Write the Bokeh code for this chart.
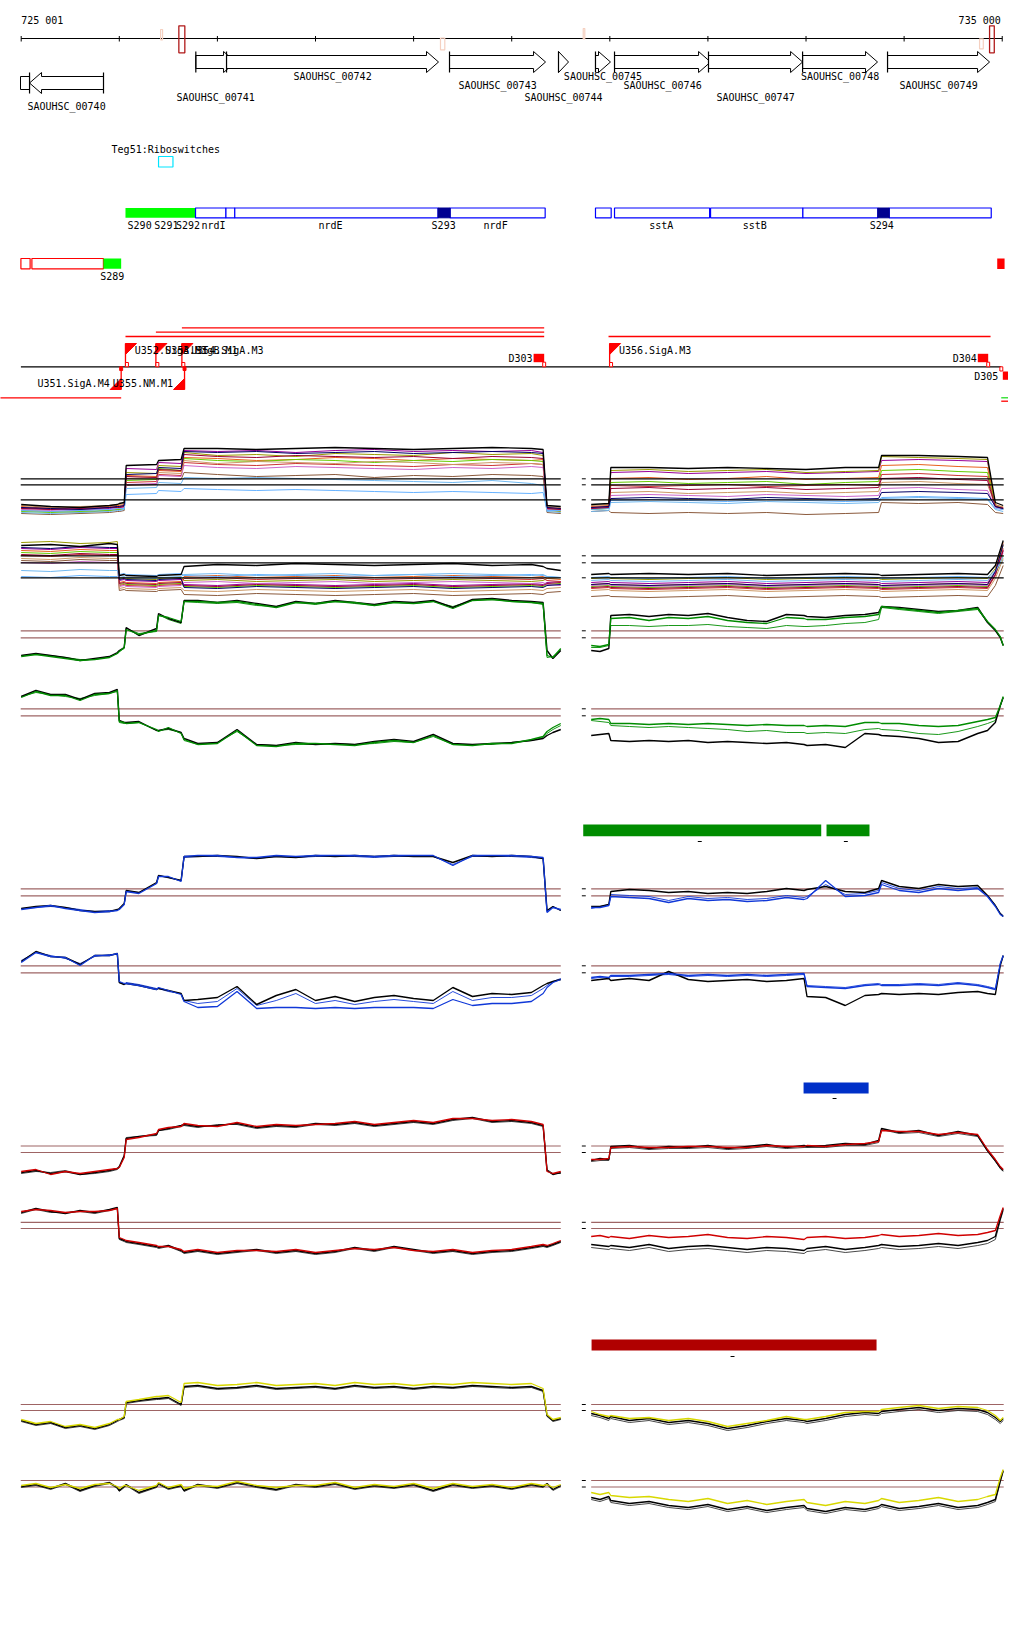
from bokeh.plotting import figure
from bokeh.models import Range1d
from bokeh.core.properties import value
from bokeh.embed import file_html
from bokeh.resources import INLINE

FONT = value("DejaVu Sans Mono")

# ---------------- data ----------------
VIEW_START, VIEW_END = 724789.0, 735064.0
RULER_TICKS = [725000, 726000, 727000, 728000, 729000, 730000, 731000, 732000, 733000, 734000, 735000]
RULER_LABELS = ["725 001", "735 000"]
RULER_LABEL_POS = [725000, 734985]
PINK_MARK_START = [726421, 729274, 730729, 734769]
PINK_MARK_END = [726441, 729318, 730745, 734807]
DARK_MARK_START = [726607, 734871]
DARK_MARK_END = [726668, 734919]

GENE_NAMES = ["SAOUHSC_00740", "SAOUHSC_00741", "SAOUHSC_00742", "SAOUHSC_00743", "SAOUHSC_00744",
              "SAOUHSC_00745", "SAOUHSC_00746", "SAOUHSC_00747", "SAOUHSC_00748", "SAOUHSC_00749"]
GENE_START = [725085, 726780, 727093, 729366, 730477, 730854, 731048, 732006, 732965, 733831]
GENE_END = [725839, 727185, 729254, 730345, 730579, 731007, 732027, 732965, 733729, 734871]
GENE_STRAND = [-1, 1, 1, 1, 1, 1, 1, 1, 1, 1]
CLIPPED_GENE = [724993, 725085]

RIBO_NAME = "Teg51:Riboswitches"
RIBO_START, RIBO_END = 726400, 726547

BOX_START = [726777, 727087, 727177, 729372, 730854, 731048, 732027, 732968, 733848]
BOX_END = [727087, 727177, 729249, 730341, 731014, 732017, 732968, 733732, 734888]
NAVY_START = [729249, 733732]
NAVY_END = [729372, 733848]
GREEN_SEG_START = [726063]
GREEN_SEG_END = [726777]
SEG_LABELS = ["S290", "S291", "S292", "nrdI", "nrdE", "S293", "nrdF", "sstA", "sstB", "S294"]
SEG_LABEL_POS = [726207, 726480, 726700, 726960, 728153, 729306, 729836, 731524, 732478, 733773]

RED_OUT_START = [724997, 725109]
RED_OUT_END = [725091, 725838]
S289_START, S289_END = 725838, 726019
RED_FILL_START, RED_FILL_END = 734949, 735024

FWD_FLAG_POS = [726063, 726373, 726638, 730998]
FWD_FLAG_NAMES = ["U352.SigA.M3", "U353.SigB.M1", "U354.SigA.M3", "U356.SigA.M3"]
REV_FLAG_POS = [726019, 726665]
REV_FLAG_NAMES = ["U351.SigA.M4", "U355.NM.M1"]
TERM_NAMES = ["D303", "D304", "D305"]
TERM_START = [730223, 734751, 735006]
TERM_END = [730331, 734857, 735092]
TERM_STRAND = [1, 1, -1]
TX_START = [726638, 726373, 726063, 730987, 724700]
TX_END = [730331, 730331, 730331, 734881, 726019]
TX_ROW = [327.3, 331.7, 336.0, 336.0, 397.3]

GREEN_REGION_START = [730729, 733209]
GREEN_REGION_END = [733155, 733647]
GREEN_REGION_MARK = [731917, 733406]
BLUE_REGION_START, BLUE_REGION_END, BLUE_REGION_MARK = [732975], [733638], [733291]
RED_REGION_START, RED_REGION_END, RED_REGION_MARK = [730814], [733719], [732251]

# probe positions (left block, right block)
L_POS = [725000, 725150, 725300, 725450, 725600, 725750, 725900, 725980, 726000, 726050, 726070, 726200,
         726380, 726400, 726500, 726630, 726660, 726800, 727000, 727200, 727400, 727600, 727800, 728000,
         728200, 728400, 728600, 728800, 729000, 729200, 729400, 729600, 729800, 730000, 730200, 730320,
         730360, 730420, 730500]
R_POS = [730810, 730900, 730990, 731010, 731200, 731400, 731600, 731800, 732000, 732200, 732400, 732600,
         732800, 732980, 733010, 733200, 733400, 733600, 733740, 733770, 733950, 734150, 734350, 734550,
         734750, 734850, 734930, 734980, 735010]
P1_L_POS = [725000, 725300, 725600, 725900, 725980, 726000, 726050, 726070, 726380, 726400, 726630, 726660,
            727000, 727400, 727800, 728200, 728600, 729000, 729400, 729800, 730200, 730320, 730360, 730500]
P1_R_POS = [730810, 730990, 731010, 731400, 731800, 732200, 732600, 733000, 733400, 733740, 733770, 734150,
            734550, 734850, 734930, 735010]

# panel 1, upper strand (many conditions)
P1U_BLACK = [1.6,1.4,1.3,1.5,1.6,1.7,1.8,5.5,5.6,6.0,6.1,7.2,7.2,7.1,7.2,7.3,7.2,7.1,7.2,7.3,7.2,7.1,1.5,1.4,
             1.6,1.7,5.3,5.3,5.2,5.3,5.2,5.1,5.3,5.3,6.5,6.5,6.4,6.3,1.8,1.5]
P1U_PURPLE = [1.3,1.1,1.0,1.2,1.3,1.3,1.4,5.2,5.1,5.8,5.7,7.0,6.9,7.0,6.8,7.0,7.1,6.9,7.0,6.9,7.0,6.8,1.2,1.1,
              1.3,1.4,4.8,4.9,4.7,4.8,4.9,4.7,4.8,4.9,6.0,6.1,6.0,5.9,1.5,1.2]
P1U_OLIVE = [1.0,0.9,0.8,1.0,1.1,1.1,1.2,4.8,4.7,5.5,5.4,6.8,6.5,6.6,6.4,6.7,6.6,6.5,6.8,6.6,6.7,6.5,1.0,0.9,
             1.2,1.3,5.0,5.1,4.9,5.0,5.1,4.8,4.9,5.0,6.4,6.3,6.2,6.1,1.4,1.1]
P1U_ORANGE = [1.4,1.2,1.3,1.4,1.5,1.5,1.6,4.5,4.4,5.0,4.9,6.3,6.2,6.0,6.1,6.3,6.2,6.0,6.2,6.1,6.0,6.1,1.3,1.2,
              1.4,1.5,4.2,4.3,4.1,4.2,4.4,4.1,4.2,4.3,5.5,5.6,5.4,5.3,1.6,1.3]
P1U_GREEN = [0.9,0.8,0.9,1.0,1.1,1.1,1.2,4.0,4.1,5.2,5.0,6.2,6.0,5.9,6.1,6.0,5.8,6.0,5.9,6.1,6.0,5.9,1.1,1.0,
             1.1,1.2,3.8,3.9,3.7,3.8,3.9,3.6,3.8,3.9,5.0,5.1,4.9,4.8,1.5,1.2]
P1U_RED = [1.2,1.3,1.1,1.3,1.4,1.4,1.5,3.8,3.9,4.6,4.5,5.8,5.6,5.5,5.7,5.6,5.5,5.4,5.6,5.5,5.7,5.6,1.3,1.2,
           1.3,1.4,3.5,3.4,3.5,3.6,3.4,3.5,3.6,3.5,4.6,4.7,4.5,4.4,1.4,1.3]
P1U_BROWN = [0.7,0.6,0.7,0.8,0.9,0.9,1.0,3.5,3.6,4.2,4.1,4.8,4.6,4.4,4.5,4.6,4.3,4.5,4.4,4.6,4.5,4.4,0.8,0.7,
             0.9,1.0,0.8,0.7,0.8,0.7,0.8,0.6,0.7,0.8,1.8,1.7,1.8,1.6,0.8,0.7]
P1U_PINK = [1.1,1.0,1.2,1.1,1.2,1.2,1.3,3.6,3.7,4.5,4.4,5.5,5.3,5.2,5.4,5.3,5.2,5.1,5.3,5.2,5.4,5.3,1.1,1.0,
            1.2,1.3,2.5,2.6,2.5,2.4,2.6,2.5,2.4,2.5,3.2,3.3,3.1,3.0,1.3,1.1]
P1U_LIGHTBLUE = [1.0,0.9,1.0,1.1,1.2,1.2,1.2,2.6,2.7,3.0,2.9,3.2,3.1,3.0,3.1,3.0,2.9,2.8,2.9,2.8,2.7,2.8,1.0,1.0,
                 1.1,1.2,2.0,2.1,2.0,1.9,2.1,2.0,1.9,2.0,2.3,2.4,2.3,2.2,1.2,1.1]
P1U_TAN = [1.5,1.3,1.4,1.5,1.6,1.6,1.7,4.2,4.3,4.8,4.7,6.0,5.7,5.9,5.8,5.7,5.9,5.8,5.6,5.8,5.7,5.6,1.4,1.3,
           1.5,1.6,2.8,2.9,2.7,2.8,2.9,2.7,2.8,2.9,3.8,3.9,3.7,3.6,1.5,1.4]
P1U_DARKRED = [1.2,1.1,1.2,1.3,1.3,1.3,1.4,4.4,4.3,5.1,5.0,6.6,6.4,6.3,6.5,6.4,6.3,6.4,6.2,6.4,6.3,6.2,1.2,1.1,
               1.2,1.3,3.2,3.3,3.1,3.2,3.3,3.1,3.2,3.3,4.2,4.3,4.1,4.0,1.4,1.2]
P1U_SKY = [0.8,0.7,0.8,0.9,1.0,1.0,1.1,3.2,3.3,3.8,3.7,4.3,4.2,4.3,4.2,4.1,4.0,3.9,3.8,4.0,3.7,3.5,0.9,0.8,
           0.9,1.0,1.8,1.9,1.8,1.7,1.9,1.8,1.7,1.8,2.2,2.3,2.2,2.1,1.1,0.9]
P1U_NAVY = [1.3,1.2,1.1,1.3,1.4,1.4,1.5,4.6,4.7,5.3,5.2,6.9,6.8,6.9,6.7,6.8,6.9,6.7,6.8,6.9,6.8,6.7,1.3,1.2,
            1.3,1.4,2.2,2.3,2.2,2.1,2.3,2.2,2.1,2.2,2.8,2.9,2.8,2.7,1.4,1.2]

# panel 1, lower strand
P1L_BLACK = [5.5,5.6,5.4,5.7,5.6,2.5,2.6,2.5,2.4,2.5,2.6,3.4,3.6,3.5,3.7,3.6,3.5,3.6,3.7,3.5,3.6,3.4,3.2,3.0,
             2.6,2.7,2.6,2.7,2.6,2.7,2.5,2.6,2.7,2.6,2.5,2.6,2.7,2.6,3.5,6.0]
P1L_PURPLE = [5.2,5.1,5.3,5.2,5.2,2.0,2.1,2.0,1.9,2.0,2.1,1.6,1.5,1.7,1.6,1.5,1.6,1.7,1.5,1.6,1.7,1.6,1.8,1.9,
              1.8,1.9,1.8,1.7,1.8,1.9,1.7,1.8,1.9,1.8,1.7,1.8,1.9,1.8,2.8,5.0]
P1L_OLIVE = [5.8,5.9,5.7,5.8,5.9,2.2,2.3,2.2,2.1,2.2,2.3,2.0,2.1,1.9,2.0,2.1,1.9,2.0,2.1,2.0,1.9,2.0,2.2,2.3,
             2.2,2.3,2.2,2.1,2.2,2.3,2.1,2.2,2.3,2.2,2.1,2.2,2.3,2.2,3.2,5.5]
P1L_ORANGE = [5.0,4.9,5.1,5.0,5.0,1.8,1.9,1.8,1.7,1.8,1.9,2.4,2.5,2.3,2.4,2.5,2.3,2.4,2.5,2.4,2.3,2.4,2.2,2.1,
              1.6,1.7,1.6,1.5,1.6,1.7,1.5,1.6,1.7,1.6,1.5,1.6,1.7,1.6,3.0,5.8]
P1L_GREEN = [4.8,4.7,4.9,4.8,4.8,1.6,1.7,1.6,1.5,1.6,1.7,1.4,1.3,1.5,1.4,1.3,1.4,1.5,1.3,1.4,1.5,1.4,1.6,1.7,
             1.4,1.5,1.4,1.3,1.4,1.5,1.3,1.4,1.5,1.4,1.3,1.4,1.5,1.4,2.6,4.5]
P1L_RED = [4.5,4.4,4.6,4.5,4.5,1.5,1.6,1.5,1.4,1.5,1.6,2.2,2.3,2.1,2.2,2.3,2.1,2.2,2.3,2.2,2.1,2.2,2.0,1.9,
           1.2,1.3,1.2,1.1,1.2,1.3,1.1,1.2,1.3,1.2,1.1,1.2,1.3,1.2,2.5,5.2]
P1L_BROWN = [4.0,3.9,4.1,4.0,4.0,1.0,1.1,1.0,0.9,1.0,1.1,0.6,0.5,0.7,0.6,0.5,0.6,0.7,0.5,0.6,0.7,0.6,0.8,0.9,
             0.4,0.5,0.4,0.3,0.4,0.5,0.3,0.4,0.5,0.4,0.3,0.4,0.5,0.4,1.5,3.5]
P1L_PINK = [3.8,3.7,3.9,3.8,3.8,1.4,1.5,1.4,1.3,1.4,1.5,1.8,1.9,1.7,1.8,1.9,1.7,1.8,1.9,1.8,1.7,1.8,1.6,1.5,
            1.5,1.6,1.5,1.4,1.5,1.6,1.4,1.5,1.6,1.5,1.4,1.5,1.6,1.5,2.7,4.8]
P1L_LIGHTBLUE = [2.4,2.3,2.5,2.4,2.4,2.6,2.7,2.6,2.5,2.6,2.7,2.5,2.4,2.6,2.5,2.4,2.5,2.6,2.4,2.5,2.6,2.5,2.4,2.3,
                 2.3,2.4,2.3,2.2,2.3,2.4,2.2,2.3,2.4,2.3,2.2,2.3,2.4,2.3,3.0,4.0]
P1L_TAN = [4.2,4.1,4.3,4.2,4.2,1.2,1.3,1.2,1.1,1.2,1.3,1.0,0.9,1.1,1.0,0.9,1.0,1.1,0.9,1.0,1.1,1.0,1.2,1.3,
           1.0,1.1,1.0,0.9,1.0,1.1,0.9,1.0,1.1,1.0,0.9,1.0,1.1,1.0,2.2,4.2]
P1L_DARKRED = [4.6,4.5,4.7,4.6,4.6,1.7,1.8,1.7,1.6,1.7,1.8,1.5,1.4,1.6,1.5,1.4,1.5,1.6,1.4,1.5,1.6,1.5,1.7,1.8,
               1.3,1.4,1.3,1.2,1.3,1.4,1.2,1.3,1.4,1.3,1.2,1.3,1.4,1.3,2.6,5.0]
P1L_SKY = [3.0,2.9,3.1,3.0,3.0,2.3,2.4,2.3,2.2,2.3,2.4,2.6,2.7,2.5,2.6,2.7,2.5,2.6,2.7,2.6,2.5,2.6,2.4,2.3,
           2.0,2.1,2.0,1.9,2.0,2.1,1.9,2.0,2.1,2.0,1.9,2.0,2.1,2.0,2.9,4.4]
P1L_NAVY = [5.3,5.2,5.4,5.3,5.3,2.1,2.2,2.1,2.0,2.1,2.2,1.3,1.2,1.4,1.3,1.2,1.3,1.4,1.2,1.3,1.4,1.3,1.5,1.6,
            1.6,1.7,1.6,1.5,1.6,1.7,1.5,1.6,1.7,1.6,1.5,1.6,1.7,1.6,2.9,5.6]

# panel 2 (green)
P2U_BLACK = [1.0,1.2,1.0,0.8,0.5,0.7,0.9,1.3,1.5,1.8,3.8,3.0,3.7,5.2,4.7,4.3,6.5,6.5,6.3,6.5,6.2,5.9,6.4,6.2,6.5,6.3,6.1,6.4,6.3,6.5,5.8,6.6,6.7,6.5,6.4,6.3,1.5,0.7,1.5,
             1.5,1.4,1.7,5.0,5.1,4.9,5.1,5.0,5.2,4.8,4.5,4.4,5.1,5.0,4.9,4.8,5.0,5.1,5.3,5.9,5.8,5.6,5.4,5.5,5.8,4.3,3.5,2.8,2.0]
P2U_COLOR = [0.9,1.1,0.9,0.7,0.5,0.6,0.8,1.2,1.4,1.8,3.6,3.1,3.5,5.0,4.8,4.4,6.4,6.4,6.3,6.4,6.1,5.8,6.3,6.2,6.4,6.3,6.0,6.3,6.2,6.4,5.7,6.5,6.6,6.4,6.3,6.2,1.0,0.8,1.7,
             2.0,1.9,2.1,4.7,4.8,4.5,4.8,4.7,4.9,4.5,4.3,4.2,4.8,4.7,4.6,4.6,4.8,4.9,5.1,5.9,5.7,5.5,5.3,5.5,5.7,4.4,3.6,2.9,2.0]
P2U_COLOR2 = [1.0,1.1,1.0,0.8,0.6,0.6,0.9,1.2,1.4,1.7,3.7,3.2,3.4,5.1,4.6,4.2,6.4,6.3,6.2,6.3,6.0,5.9,6.3,6.1,6.4,6.2,6.0,6.3,6.2,6.4,5.9,6.5,6.6,6.4,6.3,6.1,0.8,0.9,1.6,
              1.8,1.8,2.0,4.0,4.0,3.9,4.0,4.0,4.1,3.9,3.8,3.7,4.0,3.9,3.9,4.0,4.2,4.3,4.6,5.8,5.6,5.4,5.2,5.4,5.6,4.3,3.5,2.8,2.0]
P2L_BLACK = [5.9,6.5,6.1,6.1,5.6,6.2,6.3,6.6,3.5,3.3,3.3,3.4,2.5,2.5,2.7,2.3,1.7,1.2,1.3,2.6,1.1,1.0,1.3,1.1,1.2,1.1,1.4,1.6,1.4,2.1,1.2,1.1,1.2,1.3,1.5,1.7,2.0,2.3,2.6,
             2.0,2.1,2.2,1.5,1.4,1.5,1.4,1.5,1.3,1.4,1.3,1.2,1.3,1.1,1.0,1.1,0.8,2.2,2.1,2.0,1.9,1.7,1.3,1.4,2.2,2.5,3.3,5.0,5.8]
P2L_COLOR = [5.8,6.4,6.0,6.0,5.5,6.1,6.2,6.5,3.4,3.3,3.2,3.3,2.6,2.4,2.8,2.2,1.6,1.1,1.2,2.5,1.0,0.9,1.2,1.2,1.1,1.0,1.3,1.5,1.3,2.0,1.1,1.0,1.2,1.2,1.6,1.9,2.4,2.8,3.2,
             3.6,3.7,3.6,3.2,3.2,3.1,3.2,3.1,3.2,3.1,3.0,3.1,3.0,3.0,2.9,3.0,2.9,3.3,3.3,3.2,3.2,3.0,2.9,3.0,3.4,3.6,3.8,5.0,5.9]
P2L_COLOR2 = [5.9,6.3,6.1,5.9,5.7,6.0,6.2,6.4,3.3,3.2,3.2,3.3,2.5,2.5,2.6,2.3,1.5,1.1,1.3,2.4,1.1,1.0,1.1,1.1,1.2,1.1,1.2,1.4,1.3,1.9,1.1,1.1,1.1,1.3,1.5,1.8,2.2,2.6,3.0,
              3.5,3.4,3.3,3.0,2.9,2.8,2.9,2.8,2.7,2.6,2.4,2.5,2.3,2.3,2.2,2.3,2.2,2.6,2.7,2.6,2.5,2.2,2.1,2.4,2.9,3.2,3.5,4.9,5.8]

# panel 3 (blue)
P3U_BLACK = [1.2,1.4,1.5,1.3,1.0,0.9,0.9,1.1,1.2,1.7,3.0,2.8,3.8,4.5,4.3,4.0,6.4,6.4,6.5,6.4,6.2,6.4,6.3,6.5,6.4,6.5,6.4,6.5,6.4,6.4,5.8,6.5,6.4,6.5,6.4,6.2,1.0,1.4,1.0,
             1.4,1.4,1.6,2.9,3.1,3.0,2.8,2.9,2.7,2.8,2.7,2.9,3.2,3.0,3.1,3.4,2.9,2.8,3.2,4.0,3.4,3.2,3.6,3.4,3.5,2.5,1.5,0.7,0.4]
P3U_COLOR = [1.1,1.3,1.5,1.2,1.0,0.8,0.9,1.0,1.1,1.6,2.9,2.7,3.7,4.4,4.4,3.9,6.4,6.5,6.5,6.3,6.3,6.5,6.4,6.5,6.5,6.5,6.4,6.5,6.5,6.5,5.5,6.5,6.5,6.5,6.4,6.3,0.8,1.3,1.1,
             1.3,1.3,1.5,2.4,2.3,2.2,1.8,2.2,2.0,2.1,1.9,2.0,2.3,2.1,2.2,4.0,2.4,2.5,2.8,3.6,3.0,2.8,3.2,3.0,3.2,2.4,1.4,0.6,0.4]
P3U_COLOR2 = [1.2,1.3,1.4,1.3,1.1,0.9,1.0,1.0,1.2,1.6,2.9,2.8,3.7,4.5,4.3,4.0,6.3,6.4,6.4,6.3,6.2,6.4,6.3,6.4,6.4,6.4,6.3,6.4,6.4,6.4,5.6,6.4,6.4,6.4,6.3,6.2,0.9,1.4,1.0,
              1.2,1.4,1.6,2.6,2.5,2.4,2.0,2.4,2.2,2.3,2.1,2.2,2.5,2.3,2.4,3.6,2.6,2.7,3.0,3.8,3.2,3.0,3.4,3.2,3.3,2.5,1.5,0.7,0.5]
P3L_BLACK = [5.4,6.4,5.9,5.8,5.1,6.0,6.0,6.2,3.3,3.1,3.2,3.0,2.6,2.7,2.5,2.2,1.5,1.6,1.8,2.9,1.1,2.0,2.6,1.5,1.9,1.4,1.8,2.0,1.7,1.5,2.8,1.9,2.2,2.1,2.3,3.0,3.2,3.4,3.6,
             3.5,3.6,3.7,3.5,3.7,3.5,4.4,3.6,3.4,3.5,3.6,3.4,3.5,3.7,1.9,1.8,1.0,2.0,2.1,2.2,2.1,2.2,2.1,2.3,2.4,2.2,2.1,5.0,6.0]
P3L_COLOR = [5.3,6.3,5.9,5.8,5.0,6.0,6.0,6.2,3.4,3.2,3.2,3.0,2.6,2.8,2.5,2.1,1.4,0.8,0.9,2.4,0.7,0.8,0.8,0.7,0.8,0.7,0.8,0.8,0.8,0.7,1.6,1.0,1.2,1.2,1.4,2.2,2.8,3.3,3.6,
             3.8,3.9,3.8,4.0,4.0,4.1,4.2,4.0,4.1,4.0,4.1,4.0,4.1,4.2,2.9,2.8,2.7,3.0,3.1,3.0,3.0,3.1,3.0,3.2,3.0,2.8,2.6,5.2,6.0]
P3L_COLOR2 = [5.5,6.3,6.0,5.7,5.2,5.9,6.1,6.1,3.3,3.1,3.3,3.1,2.7,2.7,2.4,2.2,1.5,1.2,1.4,2.7,1.0,1.5,2.2,1.2,1.5,1.1,1.4,1.6,1.4,1.2,2.4,1.5,1.8,1.8,2.0,2.7,3.0,3.4,3.7,
              3.7,3.8,3.7,3.9,3.9,4.0,4.1,3.9,4.0,3.9,4.0,3.9,4.0,4.1,3.0,2.9,2.8,3.1,3.2,3.1,3.1,3.2,3.1,3.3,3.1,2.9,2.7,5.1,5.9]

# panel 4 (red)
P4U_BLACK = [0.8,1.0,0.7,0.9,0.6,0.8,1.0,1.2,1.4,2.5,4.2,4.4,4.6,5.0,5.2,5.5,5.6,5.4,5.5,5.7,5.3,5.5,5.4,5.7,5.6,5.8,5.5,5.7,5.9,5.7,6.1,6.3,5.9,6.0,5.8,5.5,1.0,0.6,0.8,
             2.0,2.2,2.1,3.4,3.5,3.2,3.4,3.3,3.5,3.2,3.4,3.6,3.3,3.5,3.4,3.5,3.7,3.6,4.0,5.2,4.8,5.0,4.5,4.9,4.5,3.0,2.0,1.3,1.0]
P4U_COLOR = [0.9,1.1,0.6,0.9,0.7,0.9,1.1,1.2,1.3,2.3,4.1,4.3,4.7,5.1,5.3,5.4,5.7,5.5,5.4,5.8,5.4,5.6,5.5,5.6,5.7,5.9,5.6,5.8,6.0,5.8,6.2,6.2,6.0,6.1,5.9,5.6,0.9,0.7,0.9,
             2.1,2.1,2.2,3.3,3.4,3.3,3.3,3.4,3.4,3.3,3.3,3.5,3.4,3.4,3.5,3.4,3.6,3.7,3.9,5.0,4.9,4.9,4.6,4.8,4.6,3.1,2.1,1.4,1.1]
P4U_COLOR2 = [0.7,0.9,0.8,1.0,0.6,0.7,0.9,1.1,1.3,2.4,4.3,4.4,4.5,5.0,5.1,5.4,5.5,5.3,5.6,5.6,5.2,5.4,5.3,5.6,5.5,5.7,5.4,5.6,5.8,5.6,6.0,6.2,5.8,5.9,5.7,5.4,1.1,0.7,0.7,
              1.9,2.0,2.0,3.2,3.3,3.1,3.2,3.2,3.3,3.1,3.2,3.4,3.2,3.3,3.3,3.3,3.5,3.5,3.8,5.1,4.7,4.8,4.4,4.7,4.4,2.9,1.9,1.2,0.9]
P4L_BLACK = [4.8,5.2,4.9,4.7,5.0,4.8,5.1,5.3,2.2,2.0,1.9,1.7,1.4,1.3,1.5,1.0,0.8,1.0,0.7,0.9,1.1,0.8,1.0,0.7,0.9,1.3,1.0,1.4,1.1,0.8,1.0,0.7,0.9,1.0,1.3,1.5,1.4,1.6,1.9,
             1.6,1.5,1.4,1.5,1.3,1.6,1.2,1.4,1.5,1.3,1.1,1.3,1.2,1.0,1.2,1.4,1.1,1.3,1.5,1.6,1.4,1.5,1.7,1.5,1.8,2.0,2.4,4.2,5.2]
P4L_COLOR = [4.9,5.1,5.0,4.8,4.9,4.9,5.0,5.2,2.3,2.1,2.0,1.8,1.5,1.4,1.4,1.1,0.9,1.1,0.8,1.0,1.0,0.9,1.1,0.8,1.0,1.2,1.1,1.3,1.0,0.9,1.1,0.8,1.0,1.1,1.4,1.6,1.5,1.7,2.0,
             2.4,2.5,2.3,2.4,2.2,2.5,2.3,2.4,2.6,2.3,2.2,2.4,2.3,2.1,2.3,2.4,2.2,2.3,2.5,2.6,2.4,2.5,2.7,2.5,2.6,2.8,3.0,4.5,5.3]
P4L_COLOR2 = [4.7,5.1,4.8,4.8,4.9,4.7,5.0,5.2,2.1,1.9,1.8,1.6,1.3,1.2,1.4,0.9,0.7,0.9,0.6,0.8,1.0,0.7,0.9,0.6,0.8,1.2,0.9,1.3,1.0,0.7,0.9,0.6,0.8,0.9,1.2,1.4,1.3,1.5,1.8,
              1.3,1.2,1.1,1.2,1.0,1.3,0.9,1.1,1.2,1.0,0.8,1.0,0.9,0.7,0.9,1.1,0.8,1.0,1.2,1.3,1.1,1.2,1.4,1.2,1.5,1.7,2.1,4.0,5.0]

# panel 5 (yellow)
P5U_BLACK = [1.5,1.1,1.3,0.8,1.0,0.7,1.1,1.5,1.6,1.8,3.3,3.5,3.7,3.7,3.8,3.1,4.9,5.0,4.7,4.8,5.0,4.7,4.8,4.9,4.7,5.0,4.8,4.9,4.7,4.9,4.8,5.0,4.9,4.8,4.9,4.5,2.0,1.5,1.7,
             2.2,2.0,1.7,1.9,1.5,1.7,1.3,1.5,1.2,0.7,1.0,1.4,1.7,1.5,1.4,1.7,2.1,2.3,2.2,2.4,2.6,2.8,2.5,2.7,2.6,2.3,1.8,1.4,1.7]
P5U_COLOR = [1.6,1.2,1.4,0.9,1.1,0.8,1.2,1.6,1.6,1.9,3.4,3.6,3.9,3.9,4.0,3.3,5.2,5.3,5.0,5.1,5.3,5.0,5.1,5.2,5.0,5.3,5.1,5.2,5.0,5.2,5.1,5.3,5.2,5.1,5.2,4.7,2.1,1.6,1.8,
             2.4,2.1,1.9,2.0,1.7,1.8,1.5,1.7,1.4,0.9,1.2,1.5,1.9,1.6,1.6,1.9,2.3,2.4,2.4,2.6,2.8,3.0,2.7,2.9,2.8,2.5,2.0,1.5,1.8]
P5U_COLOR2 = [1.4,1.0,1.2,0.7,0.9,0.6,1.0,1.4,1.5,1.7,3.2,3.4,3.6,3.6,3.7,3.0,4.8,4.9,4.6,4.7,4.9,4.6,4.7,4.8,4.6,4.9,4.7,4.8,4.6,4.8,4.7,4.9,4.8,4.7,4.8,4.4,1.9,1.4,1.6,
              2.0,1.8,1.5,1.7,1.3,1.5,1.1,1.3,1.0,0.5,0.8,1.2,1.5,1.3,1.2,1.5,1.9,2.1,2.0,2.2,2.4,2.6,2.3,2.5,2.4,2.1,1.6,1.2,1.5]
P5L_BLACK = [2.9,3.1,2.7,3.2,2.5,3.0,3.3,2.8,2.5,2.9,3.1,2.3,2.9,3.2,2.7,3.0,2.5,3.1,2.8,3.3,2.9,2.6,3.1,2.9,3.2,2.7,3.0,2.8,3.1,2.5,3.1,2.8,3.0,2.7,3.1,2.9,3.2,2.6,3.0,
             1.8,1.6,1.9,1.5,1.2,1.4,1.0,0.8,1.1,0.6,0.9,0.5,0.8,1.0,0.7,0.4,0.8,0.6,0.9,1.1,0.7,0.9,1.2,0.8,1.0,1.3,1.6,3.5,4.5]
P5L_COLOR = [3.0,3.2,2.8,3.1,2.7,3.1,3.2,2.9,2.7,3.0,3.0,2.5,3.0,3.3,2.8,3.1,2.7,3.0,2.9,3.4,3.0,2.8,3.0,3.0,3.3,2.8,3.1,2.9,3.2,2.7,3.2,2.9,3.1,2.8,3.2,3.0,3.1,2.8,3.1,
             2.3,2.1,2.3,2.0,1.8,1.9,1.6,1.4,1.7,1.2,1.5,1.1,1.4,1.6,1.3,1.0,1.4,1.2,1.5,1.7,1.3,1.5,1.8,1.4,1.6,1.9,2.1,3.8,4.6]
P5L_COLOR2 = [2.8,3.0,2.6,3.1,2.4,2.9,3.2,2.7,2.4,2.8,3.0,2.2,2.8,3.1,2.6,2.9,2.4,3.0,2.7,3.2,2.8,2.5,3.0,2.8,3.1,2.6,2.9,2.7,3.0,2.4,3.0,2.7,2.9,2.6,3.0,2.8,3.1,2.5,2.9,
              1.6,1.4,1.7,1.3,1.0,1.2,0.8,0.6,0.9,0.4,0.7,0.3,0.6,0.8,0.5,0.2,0.6,0.4,0.7,0.9,0.5,0.7,1.0,0.6,0.8,1.1,1.4,3.3,4.4]

# cut-off levels per strand track
P1U_LEVELS = [4.17, 3.57, 2.07]
P1L_LEVELS = [4.47, 3.77, 2.27]
P2U_LEVELS = [3.47, 2.77]
P2L_LEVELS = [4.67, 3.97]
P3U_LEVELS = [3.17, 2.47]
P3L_LEVELS = [4.97, 4.27]
P4U_LEVELS = [3.45, 2.80]
P4L_LEVELS = [3.82, 3.20]
P5U_LEVELS = [3.10, 2.50]
P5L_LEVELS = [3.50, 2.85]

# ---------------- figure ----------------
PAGE_TOP, PAGE_BOTTOM = 0, 1624
p = figure(width=1008, height=1624, x_range=Range1d(VIEW_START, VIEW_END),
           y_range=Range1d(PAGE_BOTTOM, PAGE_TOP), output_backend="svg",
           toolbar_location=None, x_axis_location=None, y_axis_location=None, min_border=0)
p.grid.visible = False
p.outline_line_color = None
p.background_fill_color = "white"
p.border_fill_color = "white"

BP_PER_PX = 1 / 0.0981

def txt(x, y, t, align="center", color="black", size="10px"):
    p.text(x=x, y=y, text=t, text_font=FONT, text_font_size=size, text_align=align,
           text_baseline="middle", text_color=color)

# ruler
p.segment(x0=[RULER_TICKS[0]], x1=[RULER_TICKS[-1]], y0=[38], y1=[38], line_color="black", line_width=1.2)
p.segment(x0=RULER_TICKS, x1=RULER_TICKS, y0=[35.5]*len(RULER_TICKS), y1=[41]*len(RULER_TICKS),
          line_color="black", line_width=1)
txt([RULER_LABEL_POS[0]], [20], [RULER_LABELS[0]], align="left")
txt([RULER_LABEL_POS[1]], [20], [RULER_LABELS[1]], align="right")
p.quad(left=PINK_MARK_START, right=PINK_MARK_END, top=[29, 37.7, 28, 38.3], bottom=[39.3, 49.3, 38.3, 48.3],
       fill_color=None, line_color="#F5D0C0", line_width=1.2)
p.quad(left=DARK_MARK_START, right=DARK_MARK_END, top=[25.3]*2, bottom=[52.3]*2,
       fill_color=None, line_color="#B01818", line_width=1.3)

# genes
HEAD = 12 * BP_PER_PX
gx, gy, bx, by0, by1, lx, ly = [], [], [], [], [], [], []
LABEL_ROW = [106, 97, 76, 85.3, 97, 76, 85.3, 97, 76, 85.3]
for s, e, st, row in zip(GENE_START, GENE_END, GENE_STRAND, LABEL_ROW):
    h = min(HEAD, e - s)
    if st > 0:
        top, bot, ht, hb = 55, 68, 51, 72
        gx.append([s, e - h, e - h, e, e - h, e - h, s])
        gy.append([top, top, ht, (ht + hb) / 2, hb, bot, bot])
        bx.append(s)
    else:
        top, bot, ht, hb = 76, 89, 72, 93
        gx.append([e, s + h, s + h, s, s + h, s + h, e])
        gy.append([top, top, ht, (ht + hb) / 2, hb, bot, bot])
        bx.append(e)
    by0.append(ht)
    by1.append(hb)
    lx.append((s + e) / 2)
    ly.append(row)
p.quad(left=[CLIPPED_GENE[0]], right=[CLIPPED_GENE[1]], top=[76], bottom=[89], fill_color="white",
       line_color="black", line_width=1)
bx.append(CLIPPED_GENE[1]); by0.append(72); by1.append(93)
p.patches(gx, gy, fill_color="white", line_color="black", line_width=1)
p.segment(x0=bx, x1=bx, y0=by0, y1=by1, line_color="black", line_width=1.2)
txt(lx, ly, GENE_NAMES)

# riboswitch
txt([(RIBO_START + RIBO_END) / 2], [149.3], [RIBO_NAME])
p.quad(left=[RIBO_START], right=[RIBO_END], top=[156], bottom=[166.5], fill_color=None,
       line_color="#00E5FF", line_width=1.2)

# segment track
p.quad(left=GREEN_SEG_START, right=GREEN_SEG_END, top=[207.5], bottom=[217.3], fill_color="#00FF00", line_color=None)
p.quad(left=BOX_START, right=BOX_END, top=[207.5]*len(BOX_START), bottom=[217.3]*len(BOX_START),
       fill_color="white", line_color="#0000FF", line_width=1.2)
p.quad(left=NAVY_START, right=NAVY_END, top=[207.5]*2, bottom=[217.3]*2, fill_color="#000090",
       line_color="#000090")
txt(SEG_LABEL_POS, [224.5]*len(SEG_LABEL_POS), SEG_LABELS)

# red track
p.quad(left=RED_OUT_START, right=RED_OUT_END, top=[258]*2, bottom=[268.3]*2, fill_color="white",
       line_color="#FF0000", line_width=1.2)
p.quad(left=[S289_START], right=[S289_END], top=[258], bottom=[268.3], fill_color="#00FF00", line_color=None)
p.quad(left=[RED_FILL_START], right=[RED_FILL_END], top=[258], bottom=[268.5], fill_color="#FF0000", line_color=None)
txt([(S289_START + S289_END) / 2], [275.5], ["S289"])

# promoter / terminator track
FLAG = 11 * BP_PER_PX
p.segment(x0=[724997], x1=[734990], y0=[366.3], y1=[366.3], line_color="black", line_width=1.2)
p.segment(x0=TX_START, x1=TX_END, y0=TX_ROW, y1=TX_ROW, line_color="#FF0000", line_width=1.3)
p.segment(x0=[734990], x1=[735228], y0=[397.3], y1=[397.3], line_color="#22DD22", line_width=1.3)
p.segment(x0=[734990], x1=[735228], y0=[400.7], y1=[400.7], line_color="#FF0000", line_width=1.3)
p.segment(x0=FWD_FLAG_POS, x1=FWD_FLAG_POS, y0=[343]*4, y1=[366.3]*4, line_color="#FF0000", line_width=1.3)
p.patches([[g, g + FLAG, g] for g in FWD_FLAG_POS], [[343, 343, 354]] * len(FWD_FLAG_POS),
          fill_color="#FF0000", line_color="#FF0000")
p.quad(left=FWD_FLAG_POS, right=[g + 30 for g in FWD_FLAG_POS], top=[362]*4, bottom=[366.3]*4,
       fill_color="white", line_color="#FF0000", line_width=1)
txt([g + 95 for g in FWD_FLAG_POS], [350]*4, FWD_FLAG_NAMES, align="left")
p.segment(x0=REV_FLAG_POS, x1=REV_FLAG_POS, y0=[366.3]*2, y1=[389]*2, line_color="#FF0000", line_width=1.3)
p.patches([[g, g - FLAG, g] for g in REV_FLAG_POS], [[389, 389, 378]] * len(REV_FLAG_POS),
          fill_color="#FF0000", line_color="#FF0000")
p.quad(left=[g - 15 for g in REV_FLAG_POS], right=[g + 15 for g in REV_FLAG_POS], top=[366.3]*2,
       bottom=[370]*2, fill_color="#FF0000", line_color="#FF0000")
txt([g - FLAG - 5 for g in REV_FLAG_POS], [382.7]*2, REV_FLAG_NAMES, align="right")
for name, s, e, st in zip(TERM_NAMES, TERM_START, TERM_END, TERM_STRAND):
    if st > 0:
        p.quad(left=[s], right=[e], top=[353.3], bottom=[361.7], fill_color="#FF0000", line_color=None)
        p.quad(left=[e - 15], right=[e + 15], top=[361.7], bottom=[366.3], fill_color="white",
               line_color="#FF0000", line_width=1)
        txt([s - 10], [358], [name], align="right")
    else:
        p.quad(left=[s], right=[e], top=[371], bottom=[379.3], fill_color="#FF0000", line_color=None)
        p.quad(left=[s - 30], right=[s], top=[366.3], bottom=[370.5], fill_color="white",
               line_color="#FF0000", line_width=1)
        txt([s - 45], [376], [name], align="right")

# expression tracks: each strand track has its own value scale
TRACK_Y0 = {"p1u": 520, "p1l": 600, "p2u": 665, "p2l": 755, "p3u": 920, "p3l": 1015,
            "p4u": 1180, "p4l": 1260, "p5u": 1435, "p5l": 1515}
p.extra_y_ranges = {k: Range1d(start=(y0 - PAGE_BOTTOM) / 10.0, end=(y0 - PAGE_TOP) / 10.0)
                    for k, y0 in TRACK_Y0.items()}

def draw_series(vals, lpos, rpos, name, color, width):
    n = len(lpos)
    left, right = vals[:n], vals[n:]
    p.multi_line(xs=[lpos[:len(left)], rpos[:len(right)]], ys=[left, right], line_color=color,
                 line_width=width, y_range_name=name)

def draw_levels(levels, name, color):
    for lv in levels:
        p.segment(x0=[724995, 730810], x1=[730500, 735015], y0=[lv, lv], y1=[lv, lv],
                  line_color=color, line_width=1.2, y_range_name=name)
        p.segment(x0=[730715], x1=[730755], y0=[lv], y1=[lv], line_color="black", line_width=1,
                  y_range_name=name)

P1_COLORS = ["#990099", "#999900", "#E8601C", "#66CC00", "#CC3333", "#8B5A3C", "#CC66CC",
             "#66B2FF", "#CC9966", "#990033", "#70B8F0", "#000066"]
P1U_SERIES = [P1U_PURPLE, P1U_OLIVE, P1U_ORANGE, P1U_GREEN, P1U_RED, P1U_BROWN, P1U_PINK,
              P1U_LIGHTBLUE, P1U_TAN, P1U_DARKRED, P1U_SKY, P1U_NAVY]
P1L_SERIES = [P1L_PURPLE, P1L_OLIVE, P1L_ORANGE, P1L_GREEN, P1L_RED, P1L_BROWN, P1L_PINK,
              P1L_LIGHTBLUE, P1L_TAN, P1L_DARKRED, P1L_SKY, P1L_NAVY]
for vals, c in zip(P1U_SERIES, P1_COLORS):
    draw_series(vals, P1_L_POS, P1_R_POS, "p1u", c, 1)
draw_series(P1U_BLACK, P1_L_POS, P1_R_POS, "p1u", "black", 1.3)
draw_levels(P1U_LEVELS, "p1u", "black")
for vals, c in zip(P1L_SERIES, P1_COLORS):
    draw_series(vals, P1_L_POS, P1_R_POS, "p1l", c, 1)
draw_series(P1L_BLACK, P1_L_POS, P1_R_POS, "p1l", "black", 1.3)
draw_levels(P1L_LEVELS, "p1l", "black")

BROWN = "#9E6464"
PANELS = [
    ("p2u", P2U_LEVELS, P2U_BLACK, P2U_COLOR, P2U_COLOR2, "#008C00", "#008C00"),
    ("p2l", P2L_LEVELS, P2L_BLACK, P2L_COLOR, P2L_COLOR2, "#008C00", "#008C00"),
    ("p3u", P3U_LEVELS, P3U_BLACK, P3U_COLOR, P3U_COLOR2, "#1038D8", "#1038D8"),
    ("p3l", P3L_LEVELS, P3L_BLACK, P3L_COLOR, P3L_COLOR2, "#1038D8", "#1038D8"),
    ("p4u", P4U_LEVELS, P4U_BLACK, P4U_COLOR, P4U_COLOR2, "#D00000", "#333333"),
    ("p4l", P4L_LEVELS, P4L_BLACK, P4L_COLOR, P4L_COLOR2, "#D00000", "#333333"),
    ("p5u", P5U_LEVELS, P5U_BLACK, P5U_COLOR, P5U_COLOR2, "#D8D800", "#333333"),
    ("p5l", P5L_LEVELS, P5L_BLACK, P5L_COLOR, P5L_COLOR2, "#D8D800", "#333333"),
]
for name, levels, blk, col, col2, c1, c2 in PANELS:
    draw_levels(levels, name, BROWN)
    draw_series(col2, L_POS, R_POS, name, c2, 0.9)
    draw_series(blk, L_POS, R_POS, name, "black", 1.4)
    draw_series(col, L_POS, R_POS, name, c1, 1.3)

# significant regions
p.quad(left=GREEN_REGION_START, right=GREEN_REGION_END, top=[824]*2, bottom=[835.7]*2,
       fill_color="#008C00", line_color=None)
p.segment(x0=[g - 20 for g in GREEN_REGION_MARK], x1=[g + 20 for g in GREEN_REGION_MARK],
          y0=[841]*2, y1=[841]*2, line_color="black", line_width=1)
p.quad(left=BLUE_REGION_START, right=BLUE_REGION_END, top=[1082], bottom=[1093],
       fill_color="#0030C8", line_color=None)
p.segment(x0=[g - 20 for g in BLUE_REGION_MARK], x1=[g + 20 for g in BLUE_REGION_MARK],
          y0=[1098], y1=[1098], line_color="black", line_width=1)
p.quad(left=RED_REGION_START, right=RED_REGION_END, top=[1339], bottom=[1350],
       fill_color="#B00000", line_color=None)
p.segment(x0=[g - 20 for g in RED_REGION_MARK], x1=[g + 20 for g in RED_REGION_MARK],
          y0=[1356], y1=[1356], line_color="black", line_width=1)

open("out.html", "w").write(file_html(p, INLINE))
